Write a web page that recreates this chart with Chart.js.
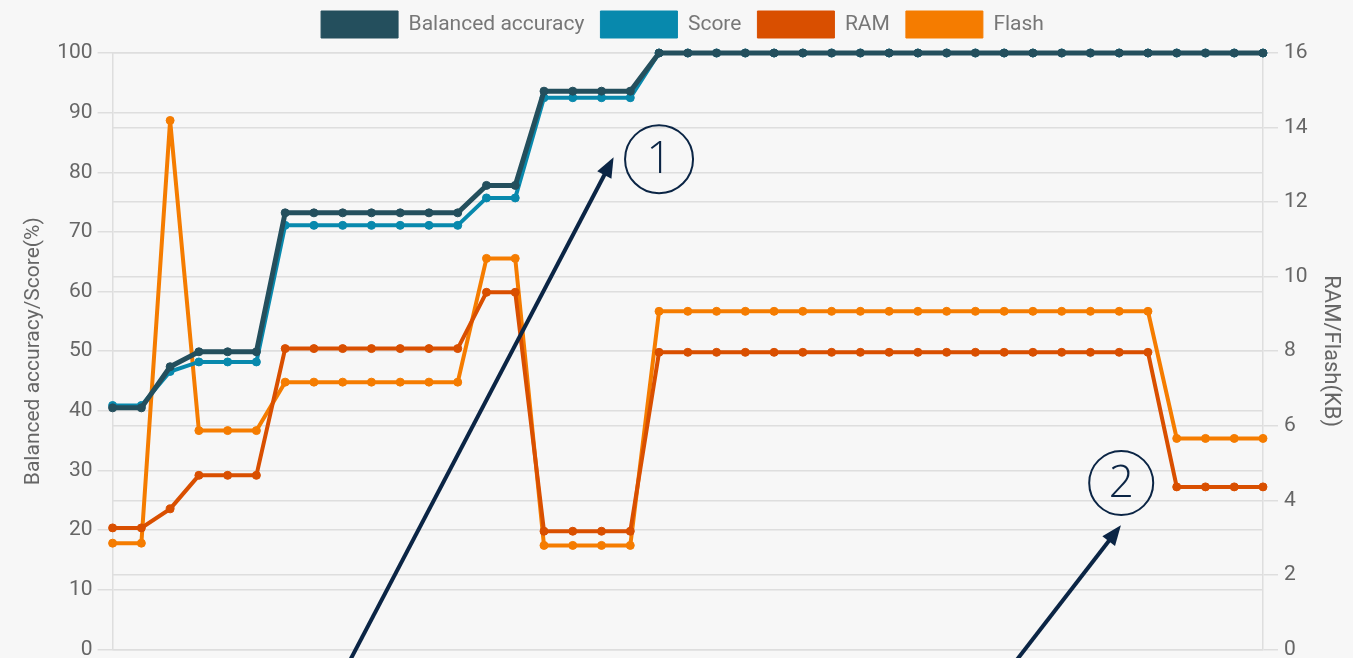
<!DOCTYPE html>
<html>
<head>
<meta charset="utf-8">
<script src="https://cdn.jsdelivr.net/npm/chart.js@4/dist/chart.umd.min.js"></script>
<style>
    html, body { margin: 0; padding: 0; background: #f7f7f7; overflow: hidden; }
    #wrap { width: 1353px; height: 658px; overflow: hidden; }
</style>
</head>
<body>
<div id="wrap"><canvas id="tuning-chart" width="1353" height="668"></canvas></div>
<script>
const labels = ['1','2','3','4','5','6','7','8','9','10','11','12','13','14','15','16','17','18','19','20',
    '21','22','23','24','25','26','27','28','29','30','31','32','33','34','35','36','37','38','39','40','41'];

const balancedAccuracy = [40.5, 40.5, 47.4, 49.9, 49.9, 49.9, 73.2, 73.2, 73.2, 73.2, 73.2, 73.2, 73.2, 77.8, 77.8,
    93.6, 93.6, 93.6, 93.6, 100, 100, 100, 100, 100, 100, 100, 100, 100, 100, 100, 100, 100, 100, 100, 100, 100,
    100, 100, 100, 100, 100];

const score = [40.9, 40.9, 46.6, 48.2, 48.2, 48.2, 71.1, 71.1, 71.1, 71.1, 71.1, 71.1, 71.1, 75.7, 75.7,
    92.5, 92.5, 92.5, 92.5, 100, 100, 100, 100, 100, 100, 100, 100, 100, 100, 100, 100, 100, 100, 100, 100, 100,
    100, 100, 100, 100, 100];

const ramKB = [3.26, 3.26, 3.77, 4.67, 4.67, 4.67, 8.07, 8.07, 8.07, 8.07, 8.07, 8.07, 8.07, 9.58, 9.58,
    3.17, 3.17, 3.17, 3.17, 7.97, 7.97, 7.97, 7.97, 7.97, 7.97, 7.97, 7.97, 7.97, 7.97, 7.97, 7.97, 7.97, 7.97,
    7.97, 7.97, 7.97, 7.97, 4.36, 4.36, 4.36, 4.36];

const flashKB = [2.85, 2.85, 14.19, 5.87, 5.87, 5.87, 7.17, 7.17, 7.17, 7.17, 7.17, 7.17, 7.17, 10.49, 10.49,
    2.79, 2.79, 2.79, 2.79, 9.07, 9.07, 9.07, 9.07, 9.07, 9.07, 9.07, 9.07, 9.07, 9.07, 9.07, 9.07, 9.07, 9.07,
    9.07, 9.07, 9.07, 9.07, 5.66, 5.66, 5.66, 5.66];

// callouts: circle centre in (index, % axis), arrow tip in (index, % axis)
const callouts = [
    { text: '1', cx: 19.0, cy: 82.2, r: 34, tipX: 17.42, tipY: 82.5, slope: -0.524 },
    { text: '2', cx: 35.07, cy: 27.9, r: 32, tipX: 35.06, tipY: 20.8, slope: -0.774 }
];

const NAVY = '#0b2545';

const background = {
    id: 'background',
    beforeDraw(chart) {
        const ctx = chart.ctx;
        ctx.save();
        ctx.fillStyle = '#f7f7f7';
        ctx.fillRect(0, 0, chart.width, chart.height);
        ctx.restore();
    }
};

// a bit more room under the legend than its padding gives
const legendGap = {
    id: 'legendGap',
    beforeInit(chart) {
        const fit = chart.legend.fit;
        chart.legend.fit = function () {
            fit.call(this);
            this.height += 5;
        };
    }
};

const calloutPlugin = {
    id: 'callouts',
    afterDraw(chart) {
        const ctx = chart.ctx;
        const x = chart.scales.x;
        const y = chart.scales.y;
        ctx.save();
        callouts.forEach(c => {
            // arrow
            const tx = x.getPixelForValue(c.tipX);
            const ty = y.getPixelForValue(c.tipY);
            const endY = chart.height + 40;
            const sx = tx + (endY - ty) * c.slope;
            const ang = Math.atan2(ty - endY, tx - sx);
            const headLen = 20, headW = 8;
            ctx.strokeStyle = NAVY;
            ctx.fillStyle = NAVY;
            ctx.lineWidth = 4;
            ctx.beginPath();
            ctx.moveTo(sx, endY);
            ctx.lineTo(tx - Math.cos(ang) * headLen * 0.8, ty - Math.sin(ang) * headLen * 0.8);
            ctx.stroke();
            ctx.beginPath();
            ctx.moveTo(tx, ty);
            ctx.lineTo(tx - Math.cos(ang) * headLen + Math.sin(ang) * headW,
                       ty - Math.sin(ang) * headLen - Math.cos(ang) * headW);
            ctx.lineTo(tx - Math.cos(ang) * headLen - Math.sin(ang) * headW,
                       ty - Math.sin(ang) * headLen + Math.cos(ang) * headW);
            ctx.closePath();
            ctx.fill();

            // circle with number
            const cx = x.getPixelForValue(c.cx);
            const cy = y.getPixelForValue(c.cy);
            ctx.lineWidth = 2;
            ctx.beginPath();
            ctx.arc(cx, cy, c.r, 0, Math.PI * 2);
            ctx.stroke();
            ctx.font = '300 44px "Open Sans", "Noto Sans", sans-serif';
            ctx.textAlign = 'center';
            ctx.textBaseline = 'middle';
            ctx.fillText(c.text, cx, cy + 1);
        });
        ctx.restore();
    }
};

function series(label, data, color, axis, width) {
    return {
        label: label,
        data: data,
        yAxisID: axis,
        borderColor: color,
        backgroundColor: color,
        pointBackgroundColor: color,
        pointBorderColor: color,
        borderWidth: width,
        pointRadius: 4,
        pointBorderWidth: 1,
        tension: 0,
        clip: false
    };
}

Chart.defaults.font.family = 'Roboto, "Liberation Sans", sans-serif';
Chart.defaults.font.size = 21;
Chart.defaults.color = '#666';

const ctx = document.getElementById('tuning-chart').getContext('2d');
new Chart(ctx, {
    type: 'line',
    data: {
        labels: labels,
        datasets: [
            series('Balanced accuracy', balancedAccuracy, '#244f5d', 'y', 5),
            series('Score', score, '#0889ad', 'y', 4),
            series('RAM', ramKB, '#d94f00', 'y1', 4),
            series('Flash', flashKB, '#f57c00', 'y1', 4)
        ]
    },
    options: {
        responsive: false,
        animation: false,
        layout: { padding: { left: 17, right: 5, top: -5, bottom: 0 } },
        plugins: {
            legend: {
                position: 'top',
                labels: {
                    boxWidth: 77,
                    boxHeight: 27,
                    padding: 16,
                    color: '#777',
                    font: { size: 21 },
                    generateLabels: chart => Chart.defaults.plugins.legend.labels.generateLabels(chart)
                        .map(item => Object.assign(item, { lineWidth: 1 }))
                }
            },
            tooltip: { enabled: false }
        },
        scales: {
            x: { display: false },
            y: {
                position: 'left',
                min: 0,
                max: 100,
                ticks: { stepSize: 10, padding: 5, color: '#666' },
                grid: { color: '#dedede', lineWidth: 1.5, tickLength: 15 },
                border: { color: '#dedede', width: 1.5 },
                title: { display: true, text: 'Balanced accuracy/Score(%)', font: { size: 21 }, padding: { top: 4, bottom: 6 } }
            },
            y1: {
                position: 'right',
                min: 0,
                max: 16,
                ticks: { stepSize: 2, padding: 6, color: '#666' },
                grid: { color: '#dedede', lineWidth: 1.5, tickLength: 15 },
                border: { color: '#dedede', width: 1.5 },
                title: { display: true, text: 'RAM/Flash(KB)', font: { size: 22 }, padding: 4 }
            }
        }
    },
    plugins: [background, legendGap, calloutPlugin]
});
</script>
</body>
</html>
